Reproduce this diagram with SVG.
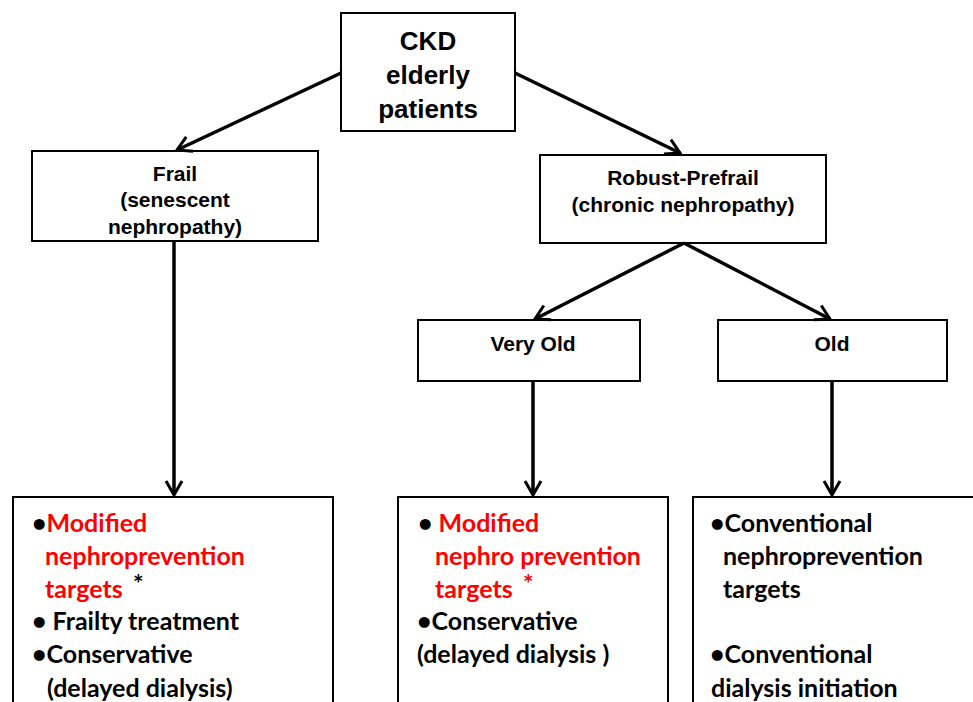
<svg xmlns="http://www.w3.org/2000/svg" width="973" height="702" viewBox="0 0 973 702">
<style>
.box{fill:#fff;stroke:#000;stroke-width:2}
.hd{font-family:"Liberation Sans",Arial,sans-serif;font-weight:bold;fill:#000;text-anchor:middle}
.bt{font-family:Lato,"Open Sans",sans-serif;font-weight:bold;font-size:25px;fill:#000}
.red{fill:#ff0000}
.conn line{stroke:#000;stroke-width:3.5;fill:none}
</style>
<defs>
<marker id="arr" markerUnits="userSpaceOnUse" viewBox="0 0 20 20" refX="18" refY="10" markerWidth="20" markerHeight="20" orient="auto">
<path d="M4,2 L18,10 L4,18" fill="none" stroke="#000" stroke-width="3"/>
</marker>
<clipPath id="frailclip"><rect x="32" y="151" width="286" height="87"/></clipPath>
</defs>
<rect width="973" height="702" fill="#fff"/>
<g id="n-ckd">
<rect class="box" x="341" y="13" width="174" height="118"/>
<text class="hd" font-size="26" x="428" y="50">CKD</text>
<text class="hd" font-size="26" x="428" y="84">elderly</text>
<text class="hd" font-size="26" x="428" y="118">patients</text>
</g>
<g id="n-frail">
<rect class="box" x="32" y="151" width="286" height="90"/>
<g clip-path="url(#frailclip)">
<text class="hd" font-size="21" x="175" y="181">Frail</text>
<text class="hd" font-size="21" x="175" y="207">(senescent</text>
<text class="hd" font-size="21" x="175" y="234">nephropathy)</text>
</g>
</g>
<g id="n-robust">
<rect class="box" x="540" y="155" width="286" height="88"/>
<text class="hd" font-size="21" x="683" y="185">Robust-Prefrail</text>
<text class="hd" font-size="21" x="683" y="212">(chronic nephropathy)</text>
</g>
<g id="n-veryold">
<rect class="box" x="418" y="320" width="222" height="61"/>
<text class="hd" font-size="21" x="533" y="351">Very Old</text>
</g>
<g id="n-old">
<rect class="box" x="718" y="320" width="229" height="61"/>
<text class="hd" font-size="21" x="832" y="351">Old</text>
</g>
<g id="n-frail-out">
<rect class="box" x="13" y="497" width="320" height="215"/>
<text class="bt" x="32" y="532">•<tspan class="red">Modified</tspan></text>
<text class="bt red" x="45" y="565">nephroprevention</text>
<text class="bt red" x="45" y="598">targets</text>
<text class="bt" x="133" y="593">*</text>
<text class="bt" x="32" y="630">• Frailty treatment</text>
<text class="bt" x="32" y="663">•Conservative</text>
<text class="bt" x="47" y="697">(delayed dialysis)</text>
</g>
<g id="n-veryold-out">
<rect class="box" x="398" y="497" width="270" height="215"/>
<text class="bt" x="418" y="532">• <tspan class="red">Modified</tspan></text>
<text class="bt red" x="435" y="565">nephro prevention</text>
<text class="bt red" x="435" y="598">targets</text>
<text class="bt red" x="523" y="593">*</text>
<text class="bt" x="417" y="630">•Conservative</text>
<text class="bt" x="417" y="663">(delayed dialysis )</text>
</g>
<g id="n-old-out">
<rect class="box" x="693" y="497" width="290" height="215"/>
<text class="bt" x="710" y="532">•Conventional</text>
<text class="bt" x="723" y="565">nephroprevention</text>
<text class="bt" x="723" y="598">targets</text>
<text class="bt" x="710" y="663">•Conventional</text>
<text class="bt" x="711" y="697">dialysis initiation</text>
</g>
<g id="connectors" class="conn">
<line x1="341" y1="73" x2="177" y2="150" marker-end="url(#arr)"/>
<line x1="515" y1="73" x2="680" y2="153" marker-end="url(#arr)"/>
<line x1="684" y1="243" x2="535" y2="319" marker-end="url(#arr)"/>
<line x1="684" y1="243" x2="830" y2="319" marker-end="url(#arr)"/>
<line x1="174" y1="241" x2="174" y2="495" marker-end="url(#arr)"/>
<line x1="533" y1="381" x2="533" y2="495" marker-end="url(#arr)"/>
<line x1="832" y1="381" x2="832" y2="495" marker-end="url(#arr)"/>
</g>
</svg>
